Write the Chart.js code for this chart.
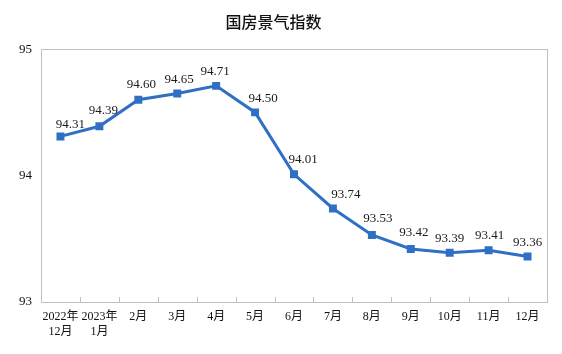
<!DOCTYPE html>
<html>
<head>
<meta charset="utf-8">
<script src="https://cdn.jsdelivr.net/npm/chart.js@4"></script>
<style>
  html, body { margin: 0; padding: 0; background: #fff; }
  #wrap { width: 562px; height: 354px; }
</style>
</head>
<body>
<div id="wrap"><canvas id="chartCanvas" width="562" height="354"></canvas></div>
<script>
// 国房景气指数: 2022年12月 - 2023年12月
const months = [
  ['2022年', '12月'], ['2023年', '1月'], '2月', '3月', '4月', '5月',
  '6月', '7月', '8月', '9月', '10月', '11月', '12月'
];
const indexValues = [94.31, 94.39, 94.60, 94.65, 94.71, 94.50, 94.01, 93.74, 93.53, 93.42, 93.39, 93.41, 93.36];
const yTicks = [93, 94, 95];

// hand nudges of the value labels (px, relative to the point), as in the original
const labelDx = [10, 4, 3, 2, -1, 8, 9, 13, 6, 3, 0, 1, 0];
const labelDy = [-12, -16, -15, -14, -14, -14, -15, -14, -16, -16, -14, -15, -14];

const serif = '"Liberation Serif", "Noto Sans CJK SC", serif';
const lineColor = '#2f6fc4';

// box around plot area + small inside tick marks on the x axis
const frame = {
  id: 'frame',
  afterDraw(chart) {
    const { ctx, chartArea: a } = chart;
    ctx.save();
    ctx.strokeStyle = '#c0c0c0';
    ctx.lineWidth = 1;
    ctx.strokeRect(Math.round(a.left) + 0.5, Math.round(a.top) + 0.5,
      Math.round(a.right - a.left), Math.round(a.bottom - a.top));
    const step = (a.right - a.left) / months.length;
    ctx.beginPath();
    for (let i = 1; i < months.length; i++) {
      const px = Math.round(a.left + step * i) + 0.5;
      ctx.moveTo(px, a.bottom);
      ctx.lineTo(px, a.bottom - 5);
    }
    ctx.stroke();
    ctx.restore();
  }
};

// value labels above each point
const valueLabels = {
  id: 'valueLabels',
  afterDatasetsDraw(chart) {
    const { ctx } = chart;
    const meta = chart.getDatasetMeta(0);
    ctx.save();
    ctx.font = '13px ' + serif;
    ctx.fillStyle = '#1a1a1a';
    ctx.textAlign = 'center';
    ctx.textBaseline = 'middle';
    meta.data.forEach((pt, i) => {
      ctx.fillText(indexValues[i].toFixed(2), pt.x + labelDx[i], pt.y + labelDy[i]);
    });
    ctx.restore();
  }
};

new Chart(document.getElementById('chartCanvas'), {
  type: 'line',
  data: {
    labels: months,
    datasets: [{
      data: indexValues,
      borderColor: lineColor,
      backgroundColor: lineColor,
      borderWidth: 3,
      pointStyle: 'rect',
      pointRadius: 3.5,
      pointHoverRadius: 3.5,
      tension: 0
    }]
  },
  options: {
    responsive: false,
    animation: false,
    layout: { padding: { left: 0, right: 15, top: 0, bottom: 0 } },
    plugins: {
      legend: { display: false },
      tooltip: { enabled: false },
      title: {
        display: true,
        text: '国房景气指数',
        color: '#111',
        font: { family: '"Noto Sans CJK SC", sans-serif', size: 16, weight: '500', lineHeight: 1.2 },
        padding: { top: 12, bottom: 18 }
      }
    },
    scales: {
      x: {
        offset: true,
        grid: { display: false, drawTicks: false },
        border: { display: false },
        ticks: {
          color: '#111',
          font: { family: serif, size: 12, lineHeight: 1.2 },
          padding: 8,
          maxRotation: 0,
          autoSkip: false
        },
        afterFit(scale) { scale.height = 52; }
      },
      y: {
        min: 93,
        max: 95,
        afterBuildTicks(scale) { scale.ticks = yTicks.map(v => ({ value: v })); },
        grid: { display: false, drawTicks: false },
        border: { display: false },
        ticks: {
          color: '#111',
          font: { family: serif, size: 13 },
          padding: 9
        },
        afterFit(scale) { scale.width = 41; }
      }
    }
  },
  plugins: [frame, valueLabels]
});
</script>
</body>
</html>
